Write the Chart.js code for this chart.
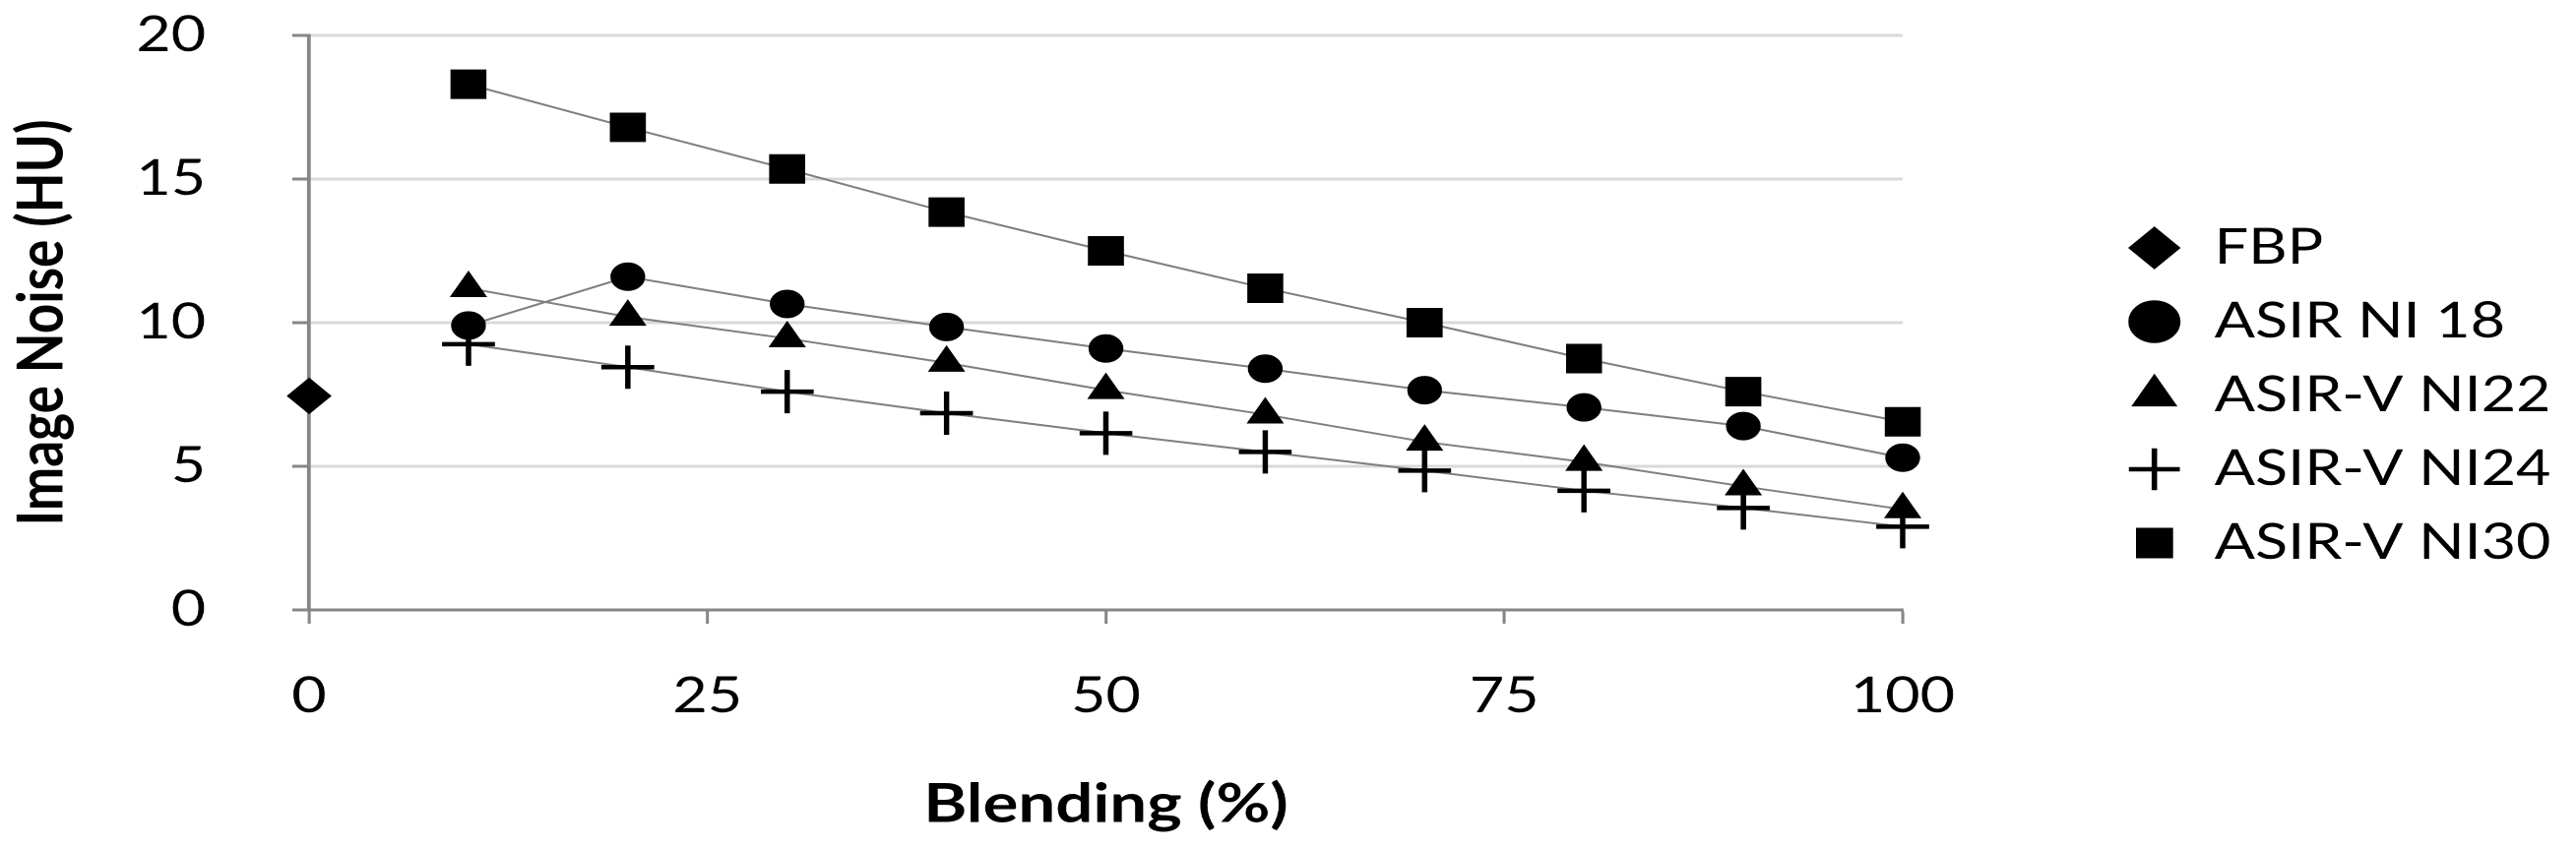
<!DOCTYPE html>
<html>
<head>
<meta charset="utf-8">
<script src="https://cdn.jsdelivr.net/npm/chart.js@4.4.1/dist/chart.umd.min.js"></script>
<style>
  html, body { margin: 0; padding: 0; background: #fff; overflow: hidden; }
  body { width: 2617px; height: 862px; position: relative; }
  #wrap { position: absolute; left: 0; top: 0; width: 2145px; height: 862px;
          transform: scaleX(1.22); transform-origin: 0 0; }
  #c { display: block; width: 2145px; height: 862px; }
</style>
</head>
<body>
<div id="wrap"><canvas id="c" width="2145" height="862"></canvas></div>
<script>
// ---- data ----
const blending   = [10, 20, 30, 40, 50, 60, 70, 80, 90, 100];
const fbpX       = [0];
const fbpNoise   = [7.45];
const asirNI18   = [9.9, 11.6, 10.65, 9.85, 9.1, 8.4, 7.65, 7.05, 6.4, 5.3];
const asirvNI22  = [11.2, 10.2, 9.45, 8.6, 7.65, 6.8, 5.85, 5.15, 4.3, 3.5];
const asirvNI24  = [9.25, 8.45, 7.6, 6.85, 6.15, 5.5, 4.85, 4.15, 3.55, 2.9];
const asirvNI30  = [18.3, 16.8, 15.35, 13.85, 12.5, 11.2, 10.0, 8.75, 7.6, 6.55];
const seriesNames = ['FBP', 'ASIR NI 18', 'ASIR-V NI22', 'ASIR-V NI24', 'ASIR-V NI30'];
const xTicks = [0, 25, 50, 75, 100];
const yTicks = [0, 5, 10, 15, 20];

// ---- layout constants (canvas space, before the horizontal stretch) ----
const PLOT_LEFT = 257.4;
const PLOT_RIGHT = 1584.4;
const X_AXIS_H = 242;
const LEGEND_LEFT = 1744;
const LEGEND_TOP = 202;

const toPts = (xs, ys) => xs.map((x, i) => ({ x: x, y: ys[i] }));
const LINE = '#7f7f7f', AXIS = '#868686', GRID = '#d9d9d9';

function mk(label, xs, ys, style, radius, bw, showLine) {
  return { label, data: toPts(xs, ys), showLine, borderColor: LINE, borderWidth: 2, backgroundColor: '#000',
    pointStyle: style, pointRadius: radius, pointHoverRadius: radius, pointBackgroundColor: '#000',
    pointBorderColor: '#000', pointBorderWidth: bw, fill: false, tension: 0, clip: false };
}

// place the legend block where the reference has it
const placeLegend = {
  id: 'placeLegend',
  afterLayout(chart) {
    const lg = chart.legend;
    if (!lg) return;
    lg.left = LEGEND_LEFT; lg.right = chart.width;
    lg.top = LEGEND_TOP; lg.bottom = chart.height;
  }
};

function draw() {
  new Chart(document.getElementById('c'), {
    type: 'line',
    data: { datasets: [
        mk(seriesNames[0], fbpX, fbpNoise, 'rectRot', 18, 1, false),
        mk(seriesNames[1], blending, asirNI18, 'circle', 14, 1, true),
        mk(seriesNames[2], blending, asirvNI22, 'triangle', 17, 1, true),
        mk(seriesNames[3], blending, asirvNI24, 'cross', 22, 4.5, true),
        mk(seriesNames[4], blending, asirvNI30, 'rect', 20.5, 1, true) ] },
    plugins: [placeLegend],
    options: {
      responsive: false, devicePixelRatio: 2, animation: false, events: [],
      layout: { padding: { top: 36, left: 0, right: 0, bottom: 0 } },
      plugins: {
        tooltip: { enabled: false },
        legend: { position: 'right', align: 'start',
          labels: { usePointStyle: true, boxWidth: 50, boxHeight: 30, padding: 25, color: '#000',
                    font: { family: 'Lato', size: 50 } } }
      },
      scales: {
        x: { type: 'linear', min: 0, max: 100,
          afterBuildTicks(s) { s.ticks = xTicks.map(v => ({ value: v })); },
          afterFit(s) { s.height = X_AXIS_H; s.paddingLeft = 0; s.paddingRight = 0; },
          grid: { drawOnChartArea: false, drawTicks: true, tickLength: 14, tickColor: AXIS, tickWidth: 2.5 },
          border: { color: AXIS, width: 3 },
          ticks: { padding: 44, color: '#000', maxRotation: 0, font: { family: 'Lato', size: 50 } },
          title: { display: true, text: 'Blending (%)', color: '#000',
                   font: { family: 'Lato', size: 55, weight: 'bold' }, padding: { top: 0, bottom: 11 } } },
        y: { type: 'linear', position: 'left', min: 0, max: 20,
          afterBuildTicks(s) { s.ticks = yTicks.map(v => ({ value: v })); },
          afterFit(s) { s.width = PLOT_LEFT; s.paddingTop = 0; s.paddingBottom = 0; },
          grid: { color: GRID, lineWidth: 3, drawTicks: true, tickLength: 14, tickColor: AXIS, tickWidth: 3 },
          border: { color: AXIS, width: 3.3 },
          ticks: { padding: 72, color: '#000', font: { family: 'Lato', size: 50 } },
          title: { display: true, text: 'Image Noise (HU)', color: '#000',
                   font: { family: 'Lato', size: 53, weight: 'bold' }, padding: { top: 3, bottom: 0 } } },
        yR: { type: 'linear', position: 'right', display: true,
          grid: { display: false, drawTicks: false }, border: { display: false }, ticks: { display: false },
          afterFit(s) { s.width = Math.max(0, s.chart.width - PLOT_RIGHT - (s.chart.legend ? s.chart.legend.width : 0)); } }
      }
    }
  });
}

if (document.fonts && document.fonts.load) {
  Promise.all([document.fonts.load('50px Lato'), document.fonts.load('bold 56px Lato')]).then(draw, draw);
} else { draw(); }
</script>
</body>
</html>
